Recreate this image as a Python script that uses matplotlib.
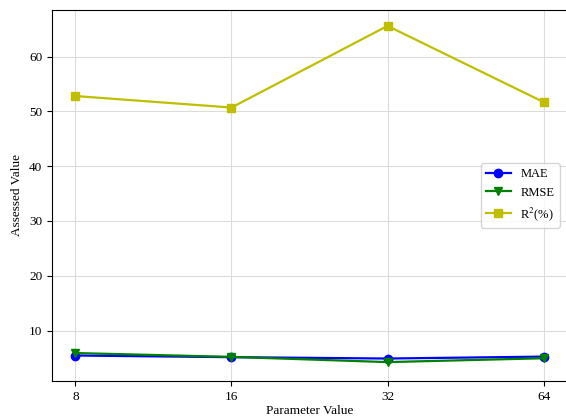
import matplotlib
matplotlib.use("Agg")
import matplotlib.pyplot as plt

params = ["8", "16", "32", "64"]
mae = [5.45, 5.15, 4.9, 5.25]
rmse = [5.9, 5.2, 4.25, 4.95]
r2 = [52.8, 50.7, 65.6, 51.7]
yticks = [10, 20, 30, 40, 50, 60]

plt.rcParams['font.family'] = ['Liberation Serif', 'DejaVu Serif']
plt.rcParams['mathtext.fontset'] = 'stix'

fig = plt.figure(figsize=(5.66, 4.18), dpi=100)
ax = fig.add_axes([52 / 566, 1 - 381 / 418, 515 / 566, 371 / 418])

x = list(range(len(params)))
ax.plot(x, mae, color='blue', marker='o', markersize=6, linewidth=1.6, label='MAE')
ax.plot(x, rmse, color='green', marker='v', markersize=6, linewidth=1.6, label='RMSE')
ax.plot(x, r2, color='#bfbf00', marker='s', markersize=6, linewidth=1.6, label='R$^2$(%)')

ax.set_xticks(x)
ax.set_xticklabels(params)
ax.set_yticks(yticks)
ax.set_ylim(0.8, 68.5)
ax.set_xlim(-0.15, 3.15)
ax.tick_params(labelsize=9.5)
ax.grid(True, color='#dcdcdc', linewidth=0.8)
ax.set_axisbelow(True)
ax.set_xlabel('Parameter Value', fontsize=9.5, labelpad=2)
ax.set_ylabel('Assessed Value', fontsize=9.5)
ax.legend(loc='center right', fontsize=9, borderaxespad=0.6)

fig.savefig('out.png', dpi=100)
